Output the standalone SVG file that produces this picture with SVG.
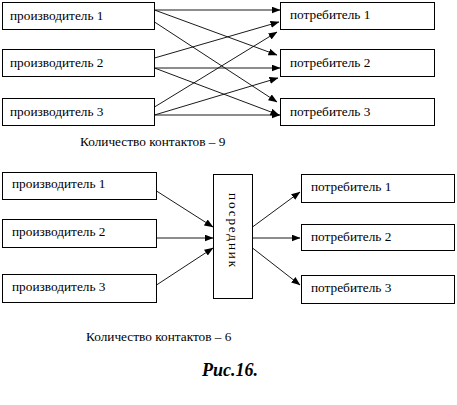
<svg xmlns="http://www.w3.org/2000/svg" width="457" height="405" viewBox="0 0 457 405">
<style>
.box{fill:#fff;stroke:#000;stroke-width:1}
.t{font-family:"Liberation Serif","Times New Roman",serif;font-size:13.3px;fill:#000}
.c line{stroke:#000;stroke-width:0.9;marker-end:url(#ah)}
</style>
<defs>
<marker id="ah" markerWidth="9" markerHeight="7" refX="8.5" refY="3.5" orient="auto" markerUnits="userSpaceOnUse">
<path d="M0,0 L9,3.5 L0,7 Z" fill="#000"/>
</marker>
</defs>
<rect width="457" height="405" fill="#fff"/>
<g id="p1"><rect class="box" x="2.5" y="2.5" width="152" height="27"/><text class="t" x="10" y="20">производитель 1</text></g>
<g id="p2"><rect class="box" x="2.5" y="49.5" width="152" height="27"/><text class="t" x="10" y="67">производитель 2</text></g>
<g id="p3"><rect class="box" x="2.5" y="98.5" width="152" height="27"/><text class="t" x="10" y="116">производитель 3</text></g>
<g id="c1"><rect class="box" x="280.5" y="2.5" width="154" height="27"/><text class="t" x="290" y="19">потребитель 1</text></g>
<g id="c2"><rect class="box" x="280.5" y="49.5" width="154" height="27"/><text class="t" x="290" y="67">потребитель 2</text></g>
<g id="c3"><rect class="box" x="280.5" y="98.5" width="154" height="27"/><text class="t" x="290" y="116">потребитель 3</text></g>
<text class="t" x="80" y="146">Количество контактов – 9</text>
<g id="bp1"><rect class="box" x="2.5" y="172.5" width="154" height="27"/><text class="t" x="12" y="188">производитель 1</text></g>
<g id="bp2"><rect class="box" x="2.5" y="219.5" width="154" height="28"/><text class="t" x="12" y="236">производитель 2</text></g>
<g id="bp3"><rect class="box" x="2.5" y="274.5" width="154" height="28"/><text class="t" x="12" y="291">производитель 3</text></g>
<g id="mid"><rect class="box" x="213.5" y="174.5" width="39" height="124"/><text class="t" transform="translate(229,193) rotate(90)" letter-spacing="1.8">посредник</text></g>
<g id="bc1"><rect class="box" x="301.5" y="174.5" width="153" height="28"/><text class="t" x="311" y="191">потребитель 1</text></g>
<g id="bc2"><rect class="box" x="301.5" y="224.5" width="153" height="26"/><text class="t" x="311" y="241">потребитель 2</text></g>
<g id="bc3"><rect class="box" x="301.5" y="275.5" width="153" height="28"/><text class="t" x="311" y="292">потребитель 3</text></g>
<text class="t" x="86" y="341">Количество контактов – 6</text>
<text x="202" y="376" font-family="Liberation Serif,Times New Roman,serif" font-size="18" font-weight="bold" font-style="italic">Рис.16.</text>
<g class="c" id="connectors">
<line x1="154.5" y1="10" x2="280" y2="10"/>
<line x1="154.5" y1="10" x2="277" y2="55"/>
<line x1="154.5" y1="22" x2="277" y2="102"/>
<line x1="154.5" y1="58" x2="279" y2="22"/>
<line x1="154.5" y1="68" x2="280" y2="68"/>
<line x1="154.5" y1="68" x2="279" y2="115"/>
<line x1="154.5" y1="107" x2="277" y2="32"/>
<line x1="154.5" y1="115" x2="278" y2="78"/>
<line x1="154.5" y1="115" x2="280" y2="115"/>
<line x1="156.5" y1="191" x2="213" y2="227"/>
<line x1="156.5" y1="238" x2="213" y2="238"/>
<line x1="156.5" y1="285" x2="213" y2="248"/>
<line x1="252.5" y1="227" x2="300" y2="192"/>
<line x1="252.5" y1="238" x2="300" y2="238"/>
<line x1="252.5" y1="248" x2="300" y2="285"/>
</g>
</svg>
